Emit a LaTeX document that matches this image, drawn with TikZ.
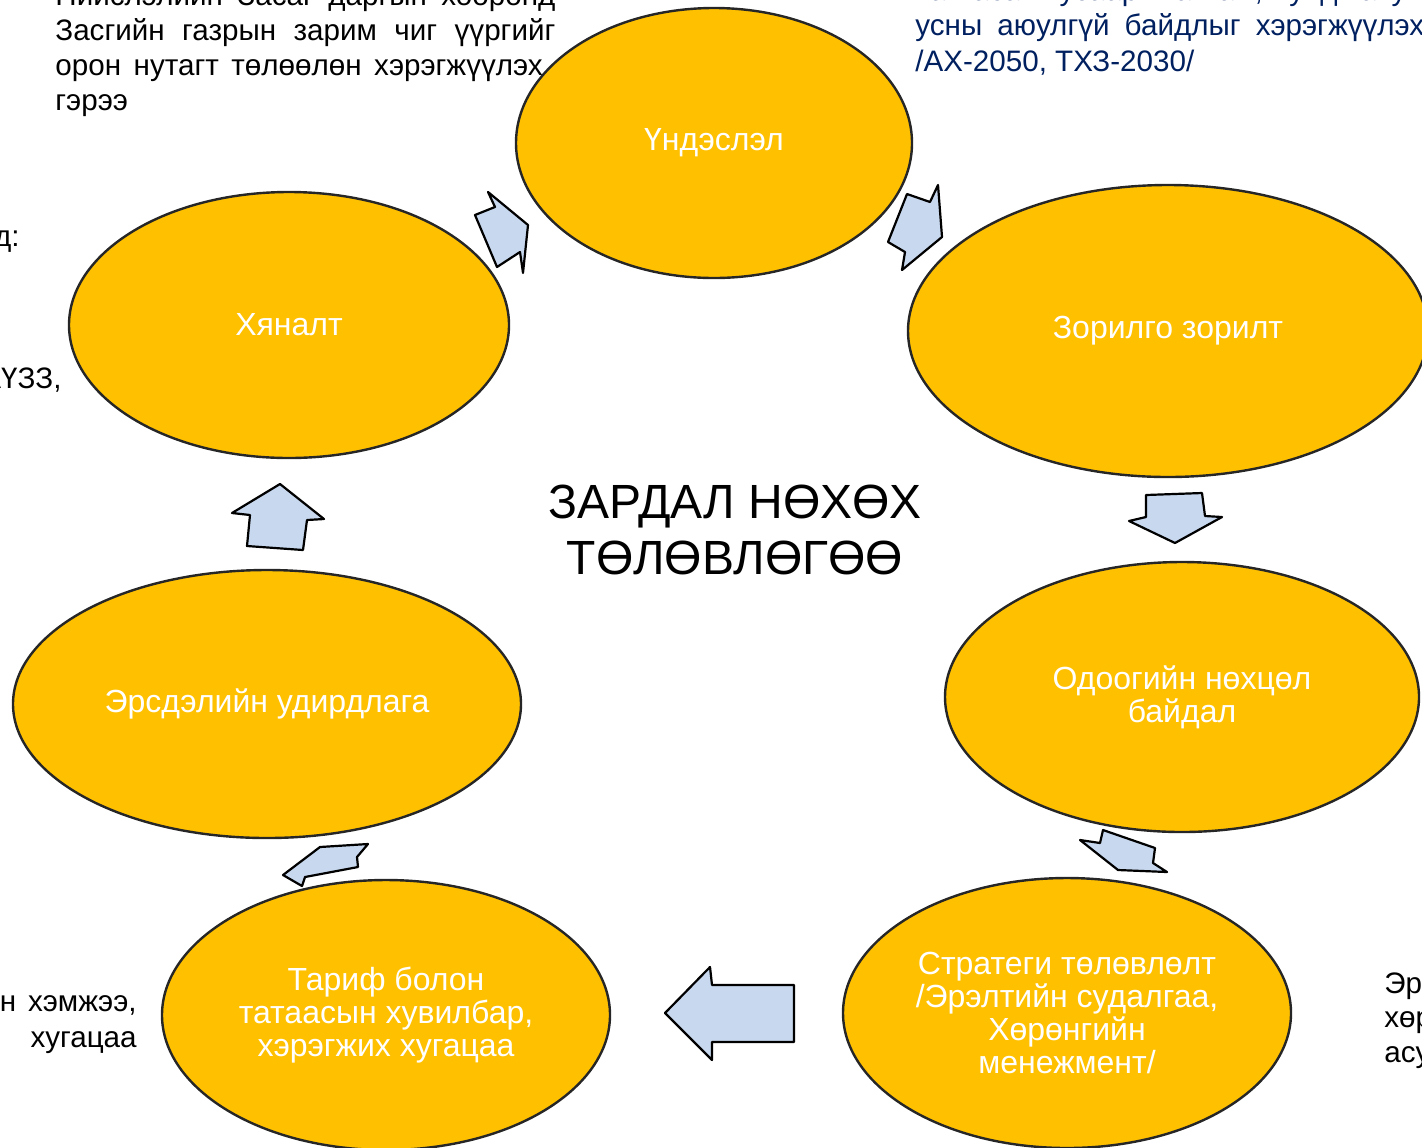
\documentclass[tikz,border=0pt]{standalone}
\usepackage{fontspec}
\setmainfont{Liberation Sans}
\usetikzlibrary{shapes.geometric}

\definecolor{stagefill}{RGB}{255,192,0}
\definecolor{arrowfill}{RGB}{200,216,238}
\definecolor{notenavy}{RGB}{0,32,96}

\begin{document}
\begin{tikzpicture}[
    x=0.5pt, y=-0.5pt,
    stage/.style={
        ellipse,
        draw=black!85,
        line width=1.2pt,
        fill=stagefill,
        text=white,
        align=center,
        inner sep=0pt,
        font=\fontsize{16}{16.5}\selectfont
    },
    blockarrow/.style={
        draw=black,
        line width=1.1pt,
        line join=round,
        fill=arrowfill
    },
    note/.style={
        inner sep=0pt,
        font=\fontsize{14.8}{17.5}\selectfont
    }
]

    \useasboundingbox (0,0) rectangle (1422,1147);
    \clip (0,0) rectangle (1422,1147);

    % cycle stages
    \node[stage, minimum width=198pt, minimum height=135pt] (basis) at (714,143) {Үндэслэл};
    \node[stage, minimum width=260pt, minimum height=146pt] (goal) at (1168,331) {Зорилго зорилт};
    \node[stage, minimum width=237pt, minimum height=135pt] (current) at (1182,697) {Одоогийн нөхцөл\\байдал};
    \node[stage, minimum width=224pt, minimum height=135pt] (strategy) at (1067,1013)
        {Стратеги төлөвлөлт\\/Эрэлтийн судалгаа,\\Хөрөнгийн\\менежмент/};
    \node[stage, minimum width=224pt, minimum height=135pt] (tariff) at (386,1015)
        {Тариф болон\\татаасын хувилбар,\\хэрэгжих хугацаа};
    \node[stage, minimum width=254pt, minimum height=134pt] (risk) at (267,704) {Эрсдэлийн удирдлага};
    \node[stage, minimum width=220pt, minimum height=133pt] (control) at (289,325) {Хяналт};

    \node[font=\fontsize{24}{28}\selectfont, align=center] (title) at (735,530)
        {ЗАРДАЛ НӨХӨХ\\ТӨЛӨВЛӨГӨӨ};

    % block arrows between stages
    \draw[blockarrow] (488,192) -- (495,207) -- (475,215) -- (497,267) -- (520,252) -- (523,273) -- (528,225) -- cycle;
    \draw[blockarrow] (938,185) -- (930,202) -- (907,194) -- (888,242) -- (905,252) -- (902,270) -- (942,237) -- cycle;
    \draw[blockarrow] (1146,495) -- (1202,493) -- (1205,516) -- (1222,517) -- (1175,543) -- (1129,521) -- (1146,517) -- cycle;
    \draw[blockarrow] (1103,830) -- (1155,848) -- (1153,863) -- (1167,872) -- (1118,870) -- (1080,840) -- (1100,843) -- cycle;
    \draw[blockarrow] (665,1013) -- (710,967) -- (712,985) -- (794,985) -- (794,1042) -- (712,1042) -- (712,1060) -- cycle;
    \draw[blockarrow] (368,844) -- (357,857) -- (358,867) -- (305,877) -- (302,886) -- (283,875) -- (320,847) -- cycle;
    \draw[blockarrow] (280,484) -- (324,519) -- (307,520) -- (303,550) -- (247,546) -- (250,515) -- (232,513) -- cycle;

    % side notes
    \foreach \y/\line in {
        5/{Нийслэлийн Засаг даргын хооронд},
        40/{Засгийн газрын зарим чиг үүргийг},
        75/{орон нутагт төлөөлөн хэрэгжүүлэх}
    }{
        \node[note, anchor=base west] (contract\y) at (55,\y) {\makebox[250pt][s]{\line}};
    }
    \node[note, anchor=base west] (contract110) at (55,110) {гэрээ};

    \foreach \y/\line in {
        0/{хангасан усаар хангаж, унд ахуйн},
        35/{усны аюулгүй байдлыг хэрэгжүүлэх}
    }{
        \node[note, anchor=base west, text=notenavy] (water\y) at (915,\y) {\makebox[262pt][s]{\line}};
    }
    \node[note, anchor=base west, text=notenavy] (water71) at (915,71) {/АХ-2050, ТХЗ-2030/};

    \node[note, anchor=base east] (leftA) at (20,246) {д:};
    \node[note, anchor=base east] (leftB) at (62,388) {АҮЗЗ,};
    \node[note, anchor=base east] (leftC) at (137,1011) {н\hspace{6pt}хэмжээ,};
    \node[note, anchor=base east] (leftD) at (137,1047) {хугацаа};

    \node[note, anchor=base west] (rightA) at (1384,993) {Эрсдэл};
    \node[note, anchor=base west] (rightB) at (1384,1027) {хөрөнгө};
    \node[note, anchor=base west] (rightC) at (1384,1062) {асуудал};

\end{tikzpicture}
\end{document}
